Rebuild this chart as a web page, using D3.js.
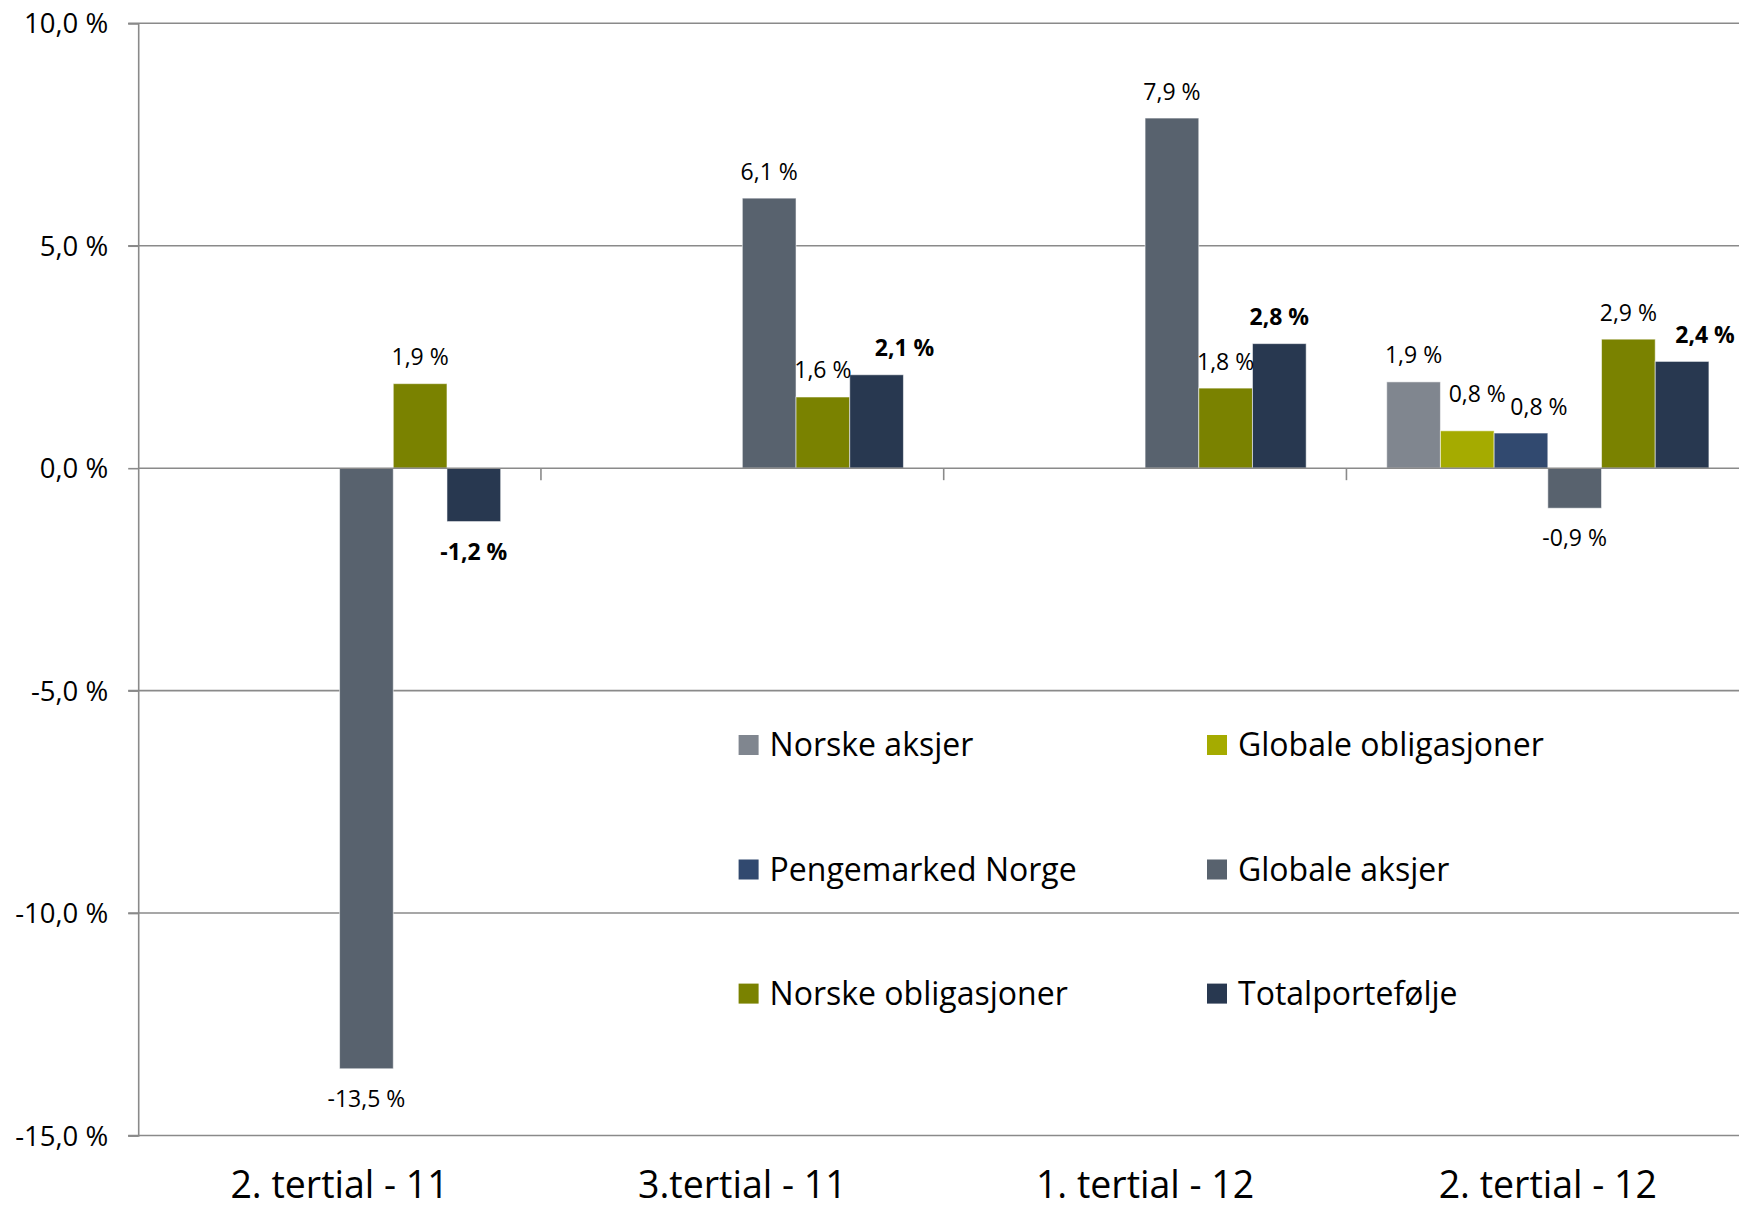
<!DOCTYPE html>
<html>
<head>
<meta charset="utf-8">
<script src="https://cdn.jsdelivr.net/npm/d3@7"></script>
<style>
  html, body { margin: 0; padding: 0; background: #ffffff; }
  svg { display: block; font-family: "Open Sans", "Noto Sans", sans-serif; }
</style>
</head>
<body>
<script>
// ---- data ----
const categories = ["2. tertial - 11", "3.tertial - 11", "1. tertial - 12", "2. tertial - 12"];
const seriesNames = ["Norske aksjer", "Globale obligasjoner", "Pengemarked Norge", "Globale aksjer", "Norske obligasjoner", "Totalportefølje"];
const norskeAksjer        = [null, null, null, 1.94];
const globaleObligasjoner = [null, null, null, 0.84];
const pengemarkedNorge    = [null, null, null, 0.79];
const globaleAksjer       = [-13.5, 6.07, 7.87, -0.9];
const norskeObligasjoner  = [1.9, 1.6, 1.8, 2.9];
const totalportefolje     = [-1.2, 2.1, 2.8, 2.4];
const yTicks = [-15, -10, -5, 0, 5, 10];

const seriesValues = [norskeAksjer, globaleObligasjoner, pengemarkedNorge, globaleAksjer, norskeObligasjoner, totalportefolje];
const seriesColors = ["#80868f", "#a5ab00", "#31496f", "#58626e", "#7a8200", "#283850"];
const boldSeries = "Totalportefølje";

// label nudges (styling only, for labels that Excel moved to avoid collisions)
const labelNudge = {
  "3.tertial - 11|Totalportefølje": [28, 0],
  "2. tertial - 12|Globale obligasjoner": [10, -10],
  "2. tertial - 12|Pengemarked Norge": [18, 0],
  "2. tertial - 12|Totalportefølje": [23, 0]
};

// ---- layout ----
const W = 1739, H = 1209;
const plotLeft = 138.2, bandW = 402.75;
const yTop = 23.3, yBottom = 1135.5;

const svg = d3.select("body").append("svg").attr("width", W).attr("height", H);
svg.append("rect").attr("width", W).attr("height", H).attr("fill", "#fff");

const x0 = d3.scaleBand().domain(categories).range([plotLeft, plotLeft + bandW * categories.length]).paddingInner(0).paddingOuter(0);
const x1 = d3.scaleBand().domain(seriesNames).range([0, x0.bandwidth()]).paddingInner(0).paddingOuter(0.75);
const y = d3.scaleLinear().domain([-15, 10]).range([yBottom, yTop]);

const fmt = v => (v < 0 ? "-" : "") + Math.abs(v).toFixed(1).replace(".", ",") + " %";

// gridlines
svg.append("g").selectAll("line").data(yTicks.filter(t => t !== 0)).join("line")
  .attr("x1", plotLeft - 10).attr("x2", W)
  .attr("y1", d => y(d)).attr("y2", d => y(d))
  .attr("stroke", "#8a8a8a").attr("stroke-width", 1.6);

// y axis
const yAxis = d3.axisLeft(y).tickValues(yTicks).tickSize(10).tickFormat(d => fmt(d));
const gy = svg.append("g").attr("transform", `translate(${plotLeft},0)`).call(yAxis);
gy.select(".domain").attr("stroke", "#8a8a8a").attr("stroke-width", 1.6);
gy.selectAll(".tick line").attr("stroke", "#8a8a8a").attr("stroke-width", 1.6);
gy.selectAll(".tick text").attr("font-family", "Open Sans").attr("font-size", 27.5).attr("fill", "#000").attr("x", -30).attr("dy", "0.35em");

// bars
const flat = [];
categories.forEach((c, ci) => {
  seriesNames.forEach((s, si) => {
    const v = seriesValues[si][ci];
    if (v !== null && v !== undefined) flat.push({ c, s, v, color: seriesColors[si] });
  });
});

svg.append("g").selectAll("rect").data(flat).join("rect")
  .attr("x", d => x0(d.c) + x1(d.s))
  .attr("width", x1.bandwidth())
  .attr("y", d => y(Math.max(0, d.v)))
  .attr("height", d => Math.abs(y(d.v) - y(0)))
  .attr("fill", d => d.color)
  .attr("stroke", "rgba(255,255,255,0.55)").attr("stroke-width", 1);

// x axis at zero
const xAxis = d3.axisBottom(x0).tickSize(0).tickFormat("");
const gx = svg.append("g").attr("transform", `translate(0,${y(0)})`).call(xAxis);
gx.select(".domain").attr("stroke", "#8a8a8a").attr("stroke-width", 1.6).attr("d", `M${plotLeft},0H${W}`);
// category boundary ticks
svg.append("g").selectAll("line").data(categories.slice(1)).join("line")
  .attr("x1", d => x0(d)).attr("x2", d => x0(d))
  .attr("y1", y(0)).attr("y2", y(0) + 12)
  .attr("stroke", "#8a8a8a").attr("stroke-width", 1.6);

// category labels
svg.append("g").selectAll("text").data(categories).join("text")
  .attr("x", d => x0(d) + x0.bandwidth() / 2)
  .attr("y", 1198)
  .attr("text-anchor", "middle")
  .attr("font-size", 37.5).attr("fill", "#000")
  .text(d => d);

// data labels
svg.append("g").selectAll("text").data(flat).join("text")
  .attr("x", d => x0(d.c) + x1(d.s) + x1.bandwidth() / 2 + (labelNudge[d.c + "|" + d.s] || [0, 0])[0])
  .attr("y", d => (d.v >= 0 ? y(d.v) - 18.5 : y(d.v) + 38) + (labelNudge[d.c + "|" + d.s] || [0, 0])[1])
  .attr("text-anchor", "middle")
  .attr("font-size", 23).attr("fill", "#000")
  .attr("font-weight", d => d.s === boldSeries ? 700 : 400)
  .text(d => fmt(d.v));

// legend
const legCols = [738.6, 1207];
const legRows = [745, 869.5, 993.6];
const leg = svg.append("g").selectAll("g").data(seriesNames).join("g")
  .attr("transform", (d, i) => `translate(${legCols[i % 2]},${legRows[Math.floor(i / 2)]})`);
leg.append("rect").attr("x", 0).attr("y", -10).attr("width", 20).attr("height", 20)
  .attr("fill", (d, i) => seriesColors[i]);
leg.append("text").attr("x", 31).attr("y", 0).attr("dy", "0.35em")
  .attr("font-size", 32).attr("fill", "#000").text(d => d);
</script>
</body>
</html>
